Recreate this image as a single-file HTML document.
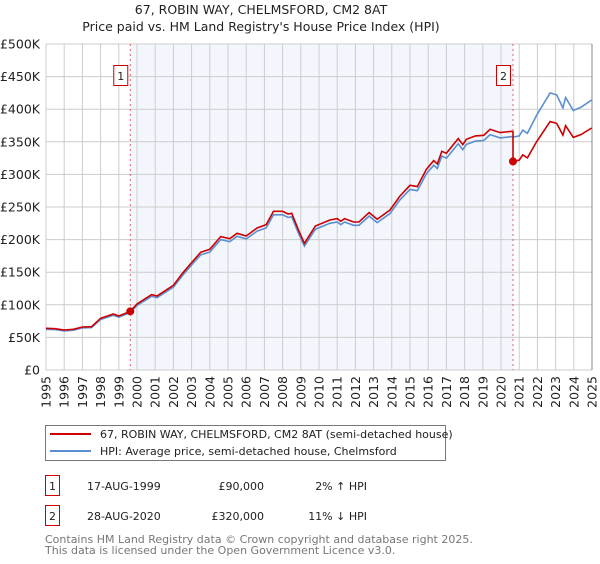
<!DOCTYPE html>
<html><head><meta charset="utf-8"><style>
body{margin:0;background:#fff;font-family:"DejaVu Sans","Liberation Sans",sans-serif;}
svg text{font-family:"DejaVu Sans","Liberation Sans",sans-serif;}
</style></head><body>
<svg id="chart" width="600" height="560" xmlns="http://www.w3.org/2000/svg">
<text x="261" y="14" font-size="12.5" text-anchor="middle" fill="#222">67, ROBIN WAY, CHELMSFORD, CM2 8AT</text>
<text x="261" y="31" font-size="12.5" text-anchor="middle" fill="#222">Price paid vs. HM Land Registry's House Price Index (HPI)</text>
<g id="plot"></g>
<g>
<rect x="45.5" y="425.5" width="400" height="35" fill="#fff" stroke="#777"/>
<line x1="50" y1="434" x2="91" y2="434" stroke="#cc0000" stroke-width="2"/>
<text x="100" y="438" font-size="11" fill="#222">67, ROBIN WAY, CHELMSFORD, CM2 8AT (semi-detached house)</text>
<line x1="50" y1="451" x2="91" y2="451" stroke="#5b8fd1" stroke-width="2"/>
<text x="100" y="455" font-size="11" fill="#222">HPI: Average price, semi-detached house, Chelmsford</text>
</g>
<g font-size="11" fill="#222">
<rect x="45.5" y="475.5" width="14" height="20" fill="#fff" stroke="#cc0000"/>
<text x="52.5" y="490" text-anchor="middle">1</text>
<text x="87" y="490">17-AUG-1999</text>
<text x="264" y="490" text-anchor="end">£90,000</text>
<text x="367" y="490" text-anchor="end">2% ↑ HPI</text>
<rect x="45.5" y="505.5" width="14" height="20" fill="#fff" stroke="#cc0000"/>
<text x="52.5" y="520" text-anchor="middle">2</text>
<text x="87" y="520">28-AUG-2020</text>
<text x="264" y="520" text-anchor="end">£320,000</text>
<text x="367" y="520" text-anchor="end">11% ↓ HPI</text>
</g>
<text x="45" y="543" font-size="11" fill="#777">Contains HM Land Registry data © Crown copyright and database right 2025.</text>
<text x="45" y="554" font-size="11" fill="#777">This data is licensed under the Open Government Licence v3.0.</text>
</svg>
<script>
const hpiYears=[1995,1995.5,1996,1996.5,1997,1997.5,1998,1998.7,1999,1999.63,2000,2000.8,2001.1,2002,2002.5,2003,2003.5,2004,2004.6,2005.1,2005.5,2006,2006.6,2007.1,2007.5,2008,2008.3,2008.5,2008.9,2009.2,2009.8,2010.6,2011,2011.2,2011.4,2011.9,2012.2,2012.75,2013.2,2013.9,2014.45,2015,2015.4,2015.9,2016.3,2016.5,2016.75,2017,2017.65,2017.9,2018.1,2018.6,2019.05,2019.4,2019.95,2020.6,2020.66,2021,2021.2,2021.45,2021.96,2022.7,2023.06,2023.4,2023.55,2023.97,2024.4,2024.98];
const hpiValues=[62.5,62,60,61,64.5,65,77.5,84,81,88,99,113,111,127,145,161,176.5,181,200,197,205,201,213,218,238,238,234,235,208,190,216,225,227,223,227,222,222,236,226,240,261,277,275,301,314,309,328,325,347,338,346,351,352,361,356,358,357,359,368,363,391,425,422,402,418,398,403,414];
const saleYears=[1999.63,2020.66];
const salePrices=[90,320];
const saleLabels=["1","2"];
const yTicks=[0,50,100,150,200,250,300,350,400,450,500];
const yTickLabels=["£0","£50K","£100K","£150K","£200K","£250K","£300K","£350K","£400K","£450K","£500K"];
const xTickYears=[1995,1996,1997,1998,1999,2000,2001,2002,2003,2004,2005,2006,2007,2008,2009,2010,2011,2012,2013,2014,2015,2016,2017,2018,2019,2020,2021,2022,2023,2024,2025];

const NS="http://www.w3.org/2000/svg";
const X0=46,X1=592,Y0=370,Y1=44;
const xs=y=>X0+(y-1995)/(2025-1995)*(X1-X0);
const ys=v=>Y0-v/500*(Y0-Y1);
const plot=document.getElementById('plot');
function mk(tag,attrs,parent){const e=document.createElementNS(NS,tag);for(const k in attrs)e.setAttribute(k,attrs[k]);(parent||plot).appendChild(e);return e;}
function hpiAt(t){for(let i=1;i<hpiYears.length;i++){if(t<=hpiYears[i]){const a=hpiYears[i-1],b=hpiYears[i];const f=(t-a)/(b-a);return hpiValues[i-1]+f*(hpiValues[i]-hpiValues[i-1]);}}return hpiValues[hpiValues.length-1];}

const shade=mk('rect',{x:xs(saleYears[0]),y:Y1,width:xs(saleYears[1])-xs(saleYears[0]),height:Y0-Y1,fill:'#eef3fc',opacity:'0.7'});


yTicks.forEach((v,i)=>{
 const l=mk('line',{x1:X0,x2:X1,y1:ys(v),y2:ys(v),stroke:'#ccc','stroke-width':1});
 
 
 const t=mk('text',{x:40,y:ys(v)+4.5,'font-size':12.5,'text-anchor':'end',fill:'#222'});
 t.textContent=yTickLabels[i];
 
 
});
xTickYears.forEach(yr=>{
 const l=mk('line',{x1:xs(yr),x2:xs(yr),y1:Y1,y2:Y0,stroke:'#ccc','stroke-width':1});
 
 
 const t=mk('text',{x:0,y:0,'font-size':12.5,'text-anchor':'end',fill:'#222',transform:`translate(${xs(yr)+4.5},${Y0+6}) rotate(-90)`});
 t.textContent=yr;
 
 
});
const ax=mk('line',{x1:X1,x2:X1,y1:Y1,y2:Y0,stroke:'#888','stroke-width':1});



saleYears.forEach((sy,i)=>{
 const l=mk('line',{x1:xs(sy),x2:xs(sy),y1:Y1,y2:Y0,stroke:'#e06060','stroke-width':1,'stroke-dasharray':'2,3'});
 
 
 const r=mk('rect',{x:xs(sy)-16.5,y:65.5,width:14,height:20,fill:'#fff',stroke:'#cc0000'});
 
 
 const t=mk('text',{x:xs(sy)-9.5,y:80,'font-size':11,'text-anchor':'middle',fill:'#222'});
 t.textContent=saleLabels[i];
 
 
});

const bp=hpiYears.map((y,i)=>`${xs(y).toFixed(1)},${ys(hpiValues[i]).toFixed(1)}`).join(' ');
const blue=mk('polyline',{points:bp,fill:'none',stroke:'#5b8fd1','stroke-width':1.6});



const rpts=[];
hpiYears.forEach((y,i)=>{
 let idx=y<saleYears[1]?0:1;
 if(y<saleYears[1]&&i<hpiYears.length-1&&hpiYears[i+1]>=saleYears[1]){}
 const v=hpiValues[i]*salePrices[idx]/hpiAt(saleYears[idx]);
 if(idx===1&&rpts.length&&!rpts.done){const pv=hpiAt(saleYears[1])*salePrices[0]/hpiAt(saleYears[0]);rpts.push(`${xs(saleYears[1]).toFixed(1)},${ys(pv).toFixed(1)}`);rpts.done=true;}
 rpts.push(`${xs(y).toFixed(1)},${ys(v).toFixed(1)}`);
});
const red=mk('polyline',{points:rpts.join(' '),fill:'none',stroke:'#cc0000','stroke-width':1.6});


saleYears.forEach((sy,i)=>{
 const c=mk('circle',{cx:xs(sy),cy:ys(salePrices[i]),r:4,fill:'#cc0000'});
 
 
});
</script>
</body></html>
